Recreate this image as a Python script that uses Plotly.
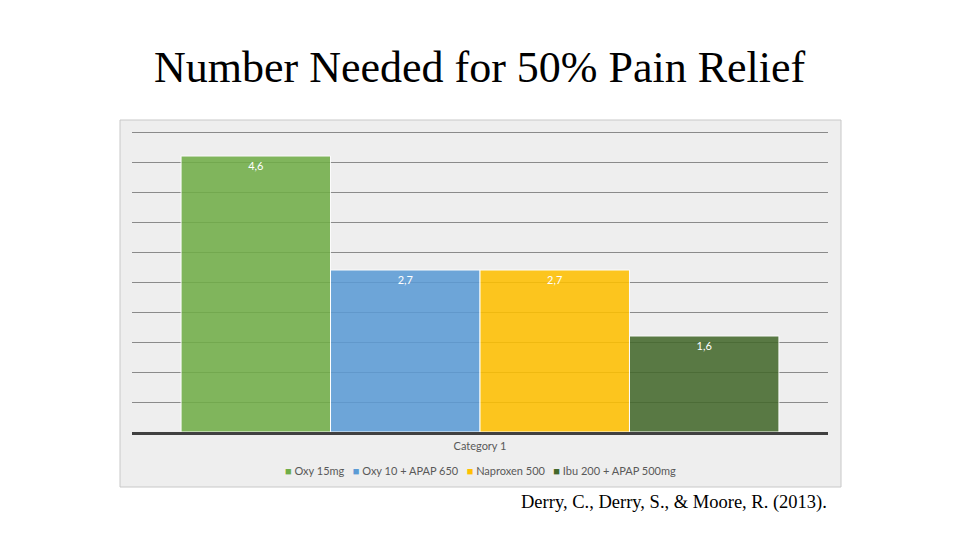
import plotly.graph_objects as go

title_text = "Number Needed for 50% Pain Relief"
citation = "Derry, C., Derry, S., & Moore, R. (2013)."
category = ["Category 1"]
series_names = ["Oxy 15mg", "Oxy 10 + APAP 650", "Naproxen 500", "Ibu 200 + APAP 500mg"]
series_values = [4.6, 2.7, 2.7, 1.6]
series_colors = ["#70AD47", "#5B9BD5", "#FFC000", "#43682B"]

# page body has an 8px margin; work in reference pixel coords and shift
OFF = 8
W, H = 960 - OFF, 540 - OFF
def px(x):
    return (x - OFF) / W
def py(y):
    return 1 - (y - OFF) / H

fig = go.Figure()
for name, val, col in zip(series_names, series_values, series_colors):
    fig.add_trace(go.Bar(
        x=category, y=[val], name=name,
        marker=dict(color=col, opacity=0.87, line=dict(color="white", width=1)),
        texttemplate="%{y:.1f}", textposition="inside", insidetextanchor="end",
        textfont=dict(color="white", size=11, family="Lato"),
        textangle=0,
    ))

legend_html = "&nbsp;&nbsp;&nbsp;".join(
    f"<span style='color:{c}'>■</span> {n}" for n, c in zip(series_names, series_colors)
)

fig.update_layout(
    width=W, height=H,
    margin=dict(l=0, r=0, t=0, b=0),
    paper_bgcolor="white", plot_bgcolor="rgba(0,0,0,0)",
    separators=",.",
    barmode="group", bargap=0.141, bargroupgap=0,
    font=dict(family="Lato", color="#595959", size=11),
    xaxis=dict(domain=[px(132), px(828)], showline=True, linecolor="#404040", linewidth=3,
               showgrid=False, ticks="", tickfont=dict(size=11, color="#595959"),
               ticklabelstandoff=2, fixedrange=True),
    yaxis=dict(domain=[py(432), py(131)], range=[0, 5.017], dtick=0.5, showticklabels=False,
               showgrid=True, gridcolor="#8a8a8a", gridwidth=1, zeroline=False, ticks=""),
    showlegend=False,
    shapes=[dict(type="rect", xref="paper", yref="paper", layer="below",
                 x0=px(120), x1=px(841), y0=py(487), y1=py(120),
                 fillcolor="#eeeeee", line=dict(color="#c8c8c8", width=1))],
    annotations=[
        dict(text=title_text, xref="paper", yref="paper", x=px(480), y=py(68),
             xanchor="center", yanchor="middle", showarrow=False,
             font=dict(family="Liberation Serif", size=44, color="black")),
        dict(text=citation, xref="paper", yref="paper", x=px(674), y=py(502),
             xanchor="center", yanchor="middle", showarrow=False,
             font=dict(family="Liberation Serif", size=18.5, color="black")),
        dict(text=legend_html, xref="paper", yref="paper", x=px(480), y=py(470),
             xanchor="center", yanchor="middle", showarrow=False,
             font=dict(family="Lato", size=11, color="#595959")),
    ],
)

fig.write_html("out.html")
